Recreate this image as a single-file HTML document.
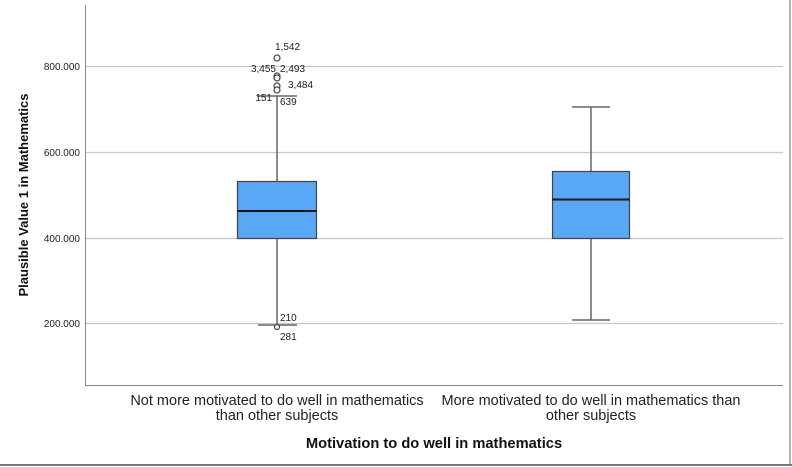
<!DOCTYPE html>
<html><head><style>body{margin:0;background:#fff}svg{display:block}text{font-family:"Liberation Sans",sans-serif}</style></head><body>
<svg width="792" height="467" viewBox="0 0 792 467">
<rect x="0" y="0" width="792" height="467" fill="#fff"/>
<line x1="790" y1="0" x2="790" y2="465" stroke="#999" stroke-width="1.5"/>
<line x1="0" y1="465" x2="792" y2="465" stroke="#777" stroke-width="2"/>
<g stroke="#c8c8c8" stroke-width="1.2">
<line x1="85" y1="66.5" x2="783" y2="66.5"/>
<line x1="85" y1="152.5" x2="783" y2="152.5"/>
<line x1="85" y1="238.5" x2="783" y2="238.5"/>
<line x1="85" y1="323.5" x2="783" y2="323.5"/>
</g>
<line x1="85.5" y1="5" x2="85.5" y2="385" stroke="#888"/>
<line x1="85" y1="385.5" x2="783" y2="385.5" stroke="#888"/>
<g font-size="10" fill="#222" text-anchor="end">
<text x="80" y="70">800.000</text>
<text x="80" y="156">600.000</text>
<text x="80" y="242">400.000</text>
<text x="80" y="327">200.000</text>
</g>
<text transform="translate(28,195) rotate(-90)" font-size="13" font-weight="bold" text-anchor="middle" fill="#111">Plausible Value 1 in Mathematics</text>
<g stroke="#666" stroke-width="1.5" fill="none">
<line x1="277" y1="96" x2="277" y2="181"/>
<line x1="277" y1="239" x2="277" y2="325"/>
<line x1="257" y1="96" x2="297" y2="96"/>
<line x1="258" y1="325" x2="297" y2="325"/>
<line x1="591" y1="107" x2="591" y2="171"/>
<line x1="591" y1="239" x2="591" y2="320"/>
<line x1="572" y1="107" x2="610" y2="107"/>
<line x1="572" y1="320" x2="610" y2="320"/>
</g>
<rect x="237.5" y="181.5" width="79" height="57" fill="#58a8f7" stroke="#444" stroke-width="1.2"/>
<line x1="237.5" y1="211" x2="316.5" y2="211" stroke="#111" stroke-width="2"/>
<rect x="552.5" y="171.5" width="77" height="67" fill="#58a8f7" stroke="#444" stroke-width="1.2"/>
<line x1="552.5" y1="199.5" x2="629.5" y2="199.5" stroke="#111" stroke-width="2"/>
<g fill="#fff" stroke="#444" stroke-width="1.2">
<circle cx="277" cy="58" r="3"/>
<circle cx="277" cy="76" r="3"/>
<circle cx="277" cy="78" r="3"/>
<circle cx="277" cy="86" r="3"/>
<circle cx="277" cy="90" r="3"/>
<circle cx="277" cy="327" r="2.5"/>
</g>
<g font-size="10" fill="#222">
<text x="275" y="50">1,542</text>
<text x="276" y="72" text-anchor="end">3,455</text>
<text x="280" y="72">2,493</text>
<text x="288" y="88">3,484</text>
<text x="272" y="101" text-anchor="end">151</text>
<text x="280" y="105">639</text>
<text x="280" y="321">210</text>
<text x="280" y="340">281</text>
</g>
<g font-size="14.5" fill="#222" text-anchor="middle">
<text x="277" y="405">Not more motivated to do well in mathematics</text>
<text x="277" y="420">than other subjects</text>
<text x="591" y="405">More motivated to do well in mathematics than</text>
<text x="591" y="420">other subjects</text>
</g>
<text x="434" y="448" font-size="14.7" font-weight="bold" text-anchor="middle" fill="#111">Motivation to do well in mathematics</text>
</svg>
</body></html>
